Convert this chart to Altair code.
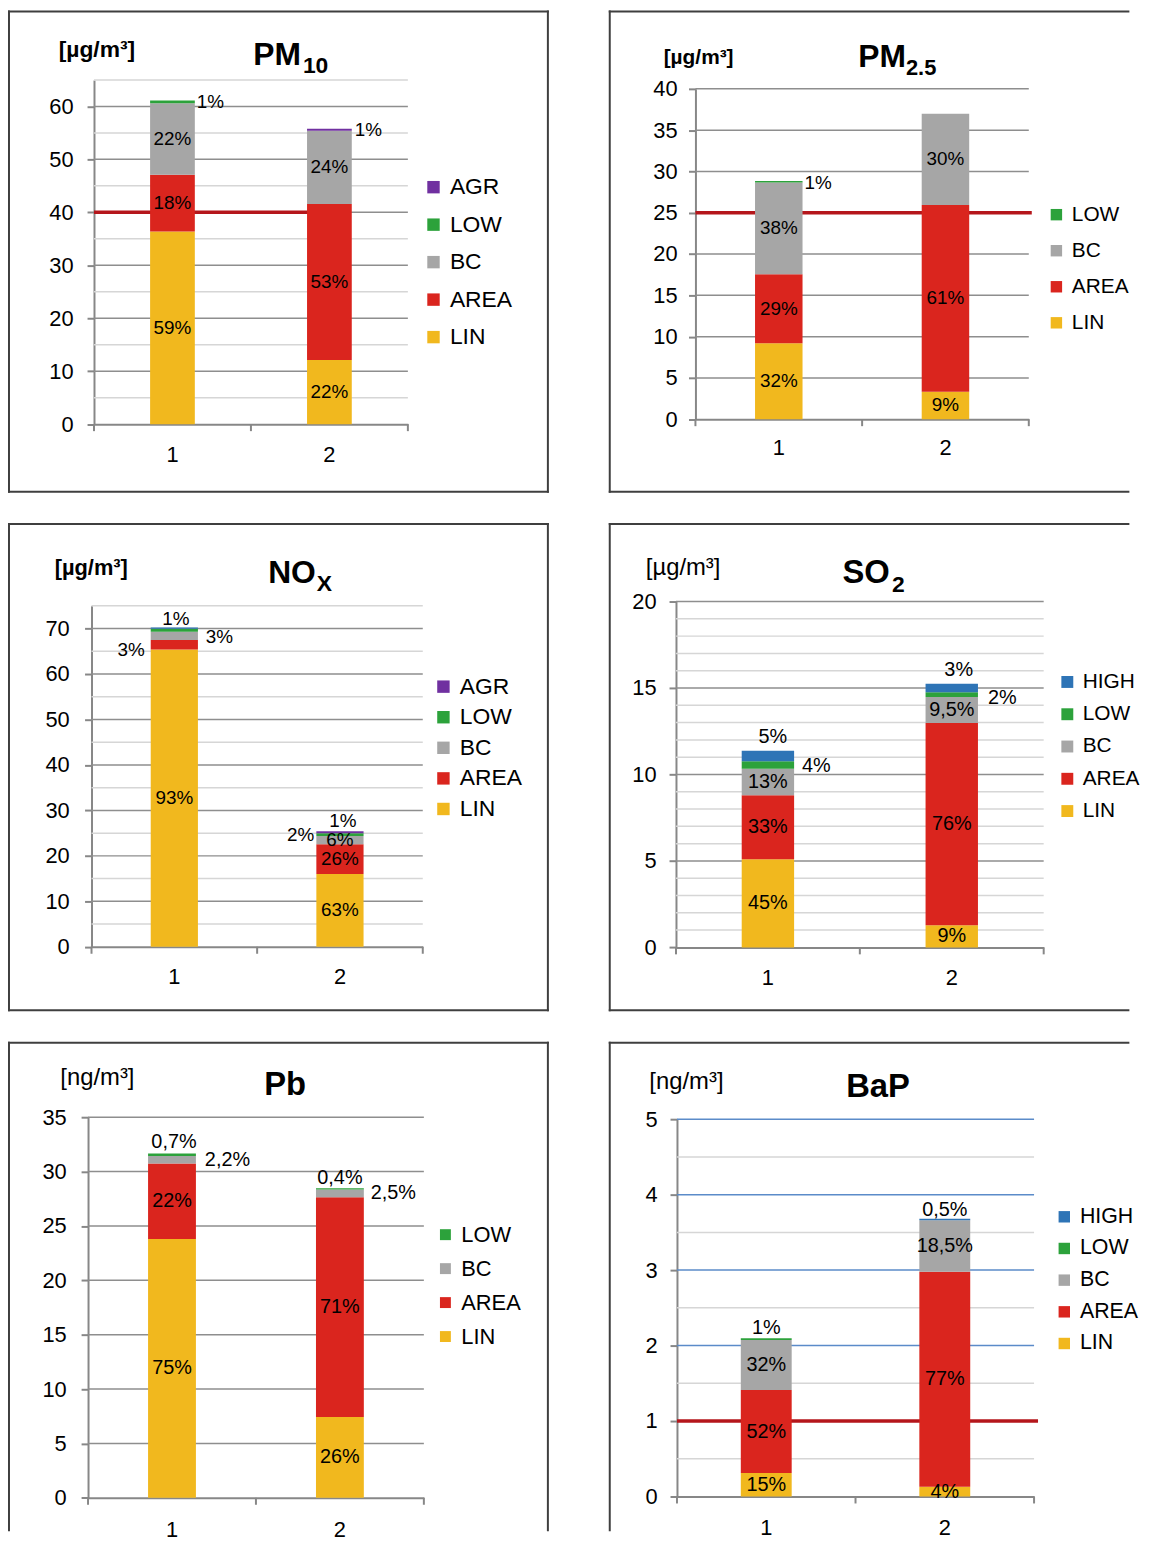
import altair as alt
import pandas as pd

FONT = "Liberation Sans"
CATS = ["1", "2"]

# ---------------- data ----------------
PM10_SOURCES = ["LIN", "AREA", "BC", "LOW", "AGR"]
PM10_BAR1 = [36.4, 10.7, 13.5, 0.5, 0.0]
PM10_BAR2 = [12.1, 29.45, 13.85, 0.0, 0.4]
PM10_LAB1 = ["59%", "18%", "22%", "1%", ""]
PM10_LAB2 = ["22%", "53%", "24%", "", "1%"]
PM10_LEGEND = ["AGR", "LOW", "BC", "AREA", "LIN"]
PM10_TICKS = [0, 10, 20, 30, 40, 50, 60]
PM10_MINOR = [5, 15, 25, 35, 45, 55, 65]
PM10_DOMAIN = [0, 65]
PM10_LIMIT = 40

PM25_SOURCES = ["LIN", "AREA", "BC", "LOW"]
PM25_BAR1 = [9.2, 8.35, 11.1, 0.2]
PM25_BAR2 = [3.33, 22.6, 11.07, 0.0]
PM25_LAB1 = ["32%", "29%", "38%", "1%"]
PM25_LAB2 = ["9%", "61%", "30%", ""]
PM25_LEGEND = ["LOW", "BC", "AREA", "LIN"]
PM25_TICKS = [0, 5, 10, 15, 20, 25, 30, 35, 40]
PM25_MINOR = []
PM25_DOMAIN = [0, 40]
PM25_LIMIT = 25

NOX_SOURCES = ["LIN", "AREA", "BC", "LOW", "HIGH", "AGR"]
NOX_BAR1 = [65.4, 2.1, 1.8, 0.65, 0.3, 0.0]
NOX_BAR2 = [16.0, 6.55, 1.8, 0.6, 0.0, 0.45]
NOX_LAB1 = ["93%", "3%", "3%", "1%", "", ""]
NOX_LAB2 = ["63%", "26%", "6%", "2%", "", "1%"]
NOX_LEGEND = ["AGR", "LOW", "BC", "AREA", "LIN"]
NOX_TICKS = [0, 10, 20, 30, 40, 50, 60, 70]
NOX_MINOR = [5, 15, 25, 35, 45, 55, 65, 75]
NOX_DOMAIN = [0, 75]

SO2_SOURCES = ["LIN", "AREA", "BC", "LOW", "HIGH"]
SO2_BAR1 = [5.1, 3.7, 1.53, 0.44, 0.6]
SO2_BAR2 = [1.28, 11.69, 1.51, 0.27, 0.5]
SO2_LAB1 = ["45%", "33%", "13%", "4%", "5%"]
SO2_LAB2 = ["9%", "76%", "9,5%", "2%", "3%"]
SO2_LEGEND = ["HIGH", "LOW", "BC", "AREA", "LIN"]
SO2_TICKS = [0, 5, 10, 15, 20]
SO2_MINOR = [1, 2, 3, 4, 6, 7, 8, 9, 11, 12, 13, 14, 16, 17, 18, 19]
SO2_DOMAIN = [0, 20]

PB_SOURCES = ["LIN", "AREA", "BC", "LOW"]
PB_BAR1 = [23.8, 6.94, 0.7, 0.22]
PB_BAR2 = [7.42, 20.22, 0.71, 0.11]
PB_LAB1 = ["75%", "22%", "2,2%", "0,7%"]
PB_LAB2 = ["26%", "71%", "2,5%", "0,4%"]
PB_LEGEND = ["LOW", "BC", "AREA", "LIN"]
PB_TICKS = [0, 5, 10, 15, 20, 25, 30, 35]
PB_MINOR = []
PB_DOMAIN = [0, 35]

BAP_SOURCES = ["LIN", "AREA", "BC", "LOW", "HIGH"]
BAP_BAR1 = [0.31, 1.1, 0.665, 0.021, 0.0]
BAP_BAR2 = [0.13, 2.85, 0.68, 0.0, 0.02]
BAP_LAB1 = ["15%", "52%", "32%", "1%", ""]
BAP_LAB2 = ["4%", "77%", "18,5%", "", "0,5%"]
BAP_LEGEND = ["HIGH", "LOW", "BC", "AREA", "LIN"]
BAP_TICKS = [0, 1, 2, 3, 4, 5]
BAP_MINOR = [0.5, 1.5, 2.5, 3.5, 4.5]
BAP_DOMAIN = [0, 5]
BAP_LIMIT = 1

# ---------------- styles ----------------
COLORS = {"LIN": "#F1B81E", "AREA": "#DA251E", "BC": "#A6A6A6",
          "LOW": "#2CA23B", "AGR": "#7030A0", "HIGH": "#2E74B6"}
AXC = "#878787"
MAJOR_C = "#8E8E8E"
MINOR_C = "#D6D6D6"
FRAME_C = "#3F3F3F"
LIMIT_C = "#B5161B"
PAD_IN = 0.715
TOP = 11.0
BOTTOM = 1540.0
RIGHT = 1136.0

PANELS = [
    (dict(sources=PM10_SOURCES, bars=[PM10_BAR1, PM10_BAR2], labels=[PM10_LAB1, PM10_LAB2],
          legend=PM10_LEGEND, ticks=PM10_TICKS, minor=PM10_MINOR, domain=PM10_DOMAIN, limit=PM10_LIMIT),
     dict(plot=(94.6, 410.7, 80.0, 426.7), frame=(9.0, TOP, 551.7, 494.7), edges="tblr",
          title=[("PM", 32, 255, 65), ("10", 23, 305, 73.3)], unit=("[µg/m³]", 23, "bold", 59, 50),
          legend=(425, 188, 36.75, 23, 12.5), ylabpad=14, xlabpad=21, pct=19,
          place={("1", "LOW"): ("right", 2, 0), ("2", "AGR"): ("right", 3, 0)},
          limit_end=0.75, limit_extra=0)),
    (dict(sources=PM25_SOURCES, bars=[PM25_BAR1, PM25_BAR2], labels=[PM25_LAB1, PM25_LAB2],
          legend=PM25_LEGEND, ticks=PM25_TICKS, minor=PM25_MINOR, domain=PM25_DOMAIN, limit=PM25_LIMIT),
     dict(plot=(700.0, 1035.7, 89.0, 421.7), frame=(613.7, TOP, RIGHT, 494.7), edges="tbl",
          title=[("PM", 32, 864, 66.7), ("2.5", 22, 912, 75)], unit=("[µg/m³]", 21, "bold", 668, 58),
          legend=(1053, 215.7, 35.3, 21, 11.5), ylabpad=11.5, xlabpad=19, pct=19,
          place={("1", "LOW"): ("right", 2, 1)}, limit_end=1.0, limit_extra=3)),
    (dict(sources=NOX_SOURCES, bars=[NOX_BAR1, NOX_BAR2], labels=[NOX_LAB1, NOX_LAB2],
          legend=NOX_LEGEND, ticks=NOX_TICKS, minor=NOX_MINOR, domain=NOX_DOMAIN, limit=None),
     dict(plot=(92.1, 425.7, 609.3, 952.7), frame=(9.0, 527.0, 551.7, 1016.7), edges="tblr",
          title=[("NO", 32, 270, 586.7), ("X", 23, 319, 594)], unit=("[µg/m³]", 22, "bold", 55, 571.7),
          legend=(435, 690.7, 29.8, 23, 12.5), ylabpad=15.5, xlabpad=20, pct=19,
          place={("1", "AREA"): ("left", -6, 5), ("1", "BC"): ("right", 8, 1),
                 ("1", "LOW"): ("top", 1.5, 2), ("2", "LOW"): ("left", -2, 0),
                 ("2", "AGR"): ("top", 3, 0)})),
    (dict(sources=SO2_SOURCES, bars=[SO2_BAR1, SO2_BAR2], labels=[SO2_LAB1, SO2_LAB2],
          legend=SO2_LEGEND, ticks=SO2_TICKS, minor=SO2_MINOR, domain=SO2_DOMAIN, limit=None),
     dict(plot=(680.4, 1050.7, 605.0, 953.3), frame=(613.7, 527.0, RIGHT, 1016.7), edges="tbl",
          title=[("SO", 33, 848, 586.7), ("2", 23, 898, 595)], unit=("[µg/m³]", 24, "normal", 650, 571.7),
          legend=(1064, 686, 31.5, 21, 12), ylabpad=13, xlabpad=20.5, pct=20,
          place={("1", "LOW"): ("right", 8, 1), ("1", "HIGH"): ("top", 5, -4),
                 ("2", "LOW"): ("right", 10, 3), ("2", "HIGH"): ("top", 7, -4)})),
    (dict(sources=PB_SOURCES, bars=[PB_BAR1, PB_BAR2], labels=[PB_LAB1, PB_LAB2],
          legend=PB_LEGEND, ticks=PB_TICKS, minor=PB_MINOR, domain=PB_DOMAIN, limit=None),
     dict(plot=(88.6, 426.8, 1124.0, 1507.3), frame=(9.0, 1049.0, 551.7, BOTTOM), edges="tlr",
          title=[("Pb", 33, 266, 1101.7)], unit=("[ng/m³]", 24, "normal", 60.7, 1085),
          legend=(437.5, 1242.3, 34.2, 22, 11), ylabpad=15, xlabpad=21.5, pct=20,
          place={("1", "BC"): ("right", 9, 0), ("1", "LOW"): ("top", 2, -2),
                 ("2", "BC"): ("right", 7, 0), ("2", "LOW"): ("top", 0, 0)})),
    (dict(sources=BAP_SOURCES, bars=[BAP_BAR1, BAP_BAR2], labels=[BAP_LAB1, BAP_LAB2],
          legend=BAP_LEGEND, ticks=BAP_TICKS, minor=BAP_MINOR, domain=BAP_DOMAIN, limit=BAP_LIMIT),
     dict(plot=(681.4, 1041.0, 1126.0, 1506.0), frame=(613.7, 1049.0, RIGHT, BOTTOM), edges="tl",
          title=[("BaP", 33, 851.8, 1103.3)], unit=("[ng/m³]", 24, "normal", 653.6, 1088.3),
          legend=(1060.7, 1224.3, 30.4, 21.5, 11.5), ylabpad=13, xlabpad=21, pct=20,
          place={("1", "LOW"): ("top", 0, 0), ("2", "HIGH"): ("top", 0, 1)},
          major_color="#5B8BC9", limit_end=1.0, limit_extra=4)),
]


def one():
    return pd.DataFrame({"k": [0]})


def panel(d, s):
    x0, x1, yt, yb = s["plot"]
    fx0, fy0, fx1, fy1 = s["frame"]
    FW, FH = fx1 - fx0, fy1 - fy0
    W = x1 - x0

    def rx(v):
        return v - fx0

    def ry(v):
        return v - fy0

    rows = []
    for cat, vals, labs in zip(CATS, d["bars"], d["labels"]):
        cum = 0.0
        total = sum(vals)
        for i, (src, v, lab) in enumerate(zip(d["sources"], vals, labs)):
            rows.append({"cat": cat, "source": src, "value": v, "order": i,
                         "mid": cum + v / 2, "total": total, "label": lab})
            cum += v
    df = pd.DataFrame(rows)

    ysc = alt.Scale(domain=d["domain"], range=[ry(yb), ry(yt)], nice=False, zero=True)
    xsc = alt.Scale(domain=CATS, range=[rx(x0), rx(x1)],
                    paddingInner=PAD_IN, paddingOuter=PAD_IN / 2)
    yax = alt.Axis(title=None, values=d["ticks"], grid=False, labelFontSize=22,
                   labelColor="black", tickSize=7, tickColor=AXC, tickWidth=2,
                   domainColor=AXC, domainWidth=2, labelPadding=s["ylabpad"],
                   labelFlush=False, labelOverlap=False, offset=-rx(x0))
    xax = alt.Axis(title=None, labelAngle=0, labelFontSize=22, labelColor="black",
                   ticks=False, tickSize=0, labelPadding=s["xlabpad"], domainColor=AXC,
                   domainWidth=2, offset=-(FH - ry(yb)))

    def X():
        return alt.X("cat:N", scale=xsc, axis=xax)

    def Y(f, **kw):
        return alt.Y(f, scale=ysc, axis=yax, **kw)

    bw = W / 2 * (1 - PAD_IN)
    layers = []

    # gridlines
    if d["minor"]:
        layers.append(alt.Chart(pd.DataFrame({"v": d["minor"]})).mark_rule(
            color=MINOR_C, strokeWidth=1.5).encode(
            y=Y("v:Q"), x=alt.value(rx(x0)), x2=alt.value(rx(x1))))
    majors = [t for t in d["ticks"] if t > 0]
    layers.append(alt.Chart(pd.DataFrame({"v": majors})).mark_rule(
        color=s.get("major_color", MAJOR_C), strokeWidth=1.5).encode(
        y=Y("v:Q"), x=alt.value(rx(x0)), x2=alt.value(rx(x1))))

    # limit line
    if d["limit"] is not None:
        layers.append(alt.Chart(pd.DataFrame({"v": [d["limit"]]})).mark_rule(
            color=LIMIT_C, strokeWidth=3.5).encode(
            y=Y("v:Q"), x=alt.value(rx(x0)),
            x2=alt.value(rx(x0) + W * s["limit_end"] + s["limit_extra"])))

    # bars
    lo = d["legend"]
    dom = lo + [k for k in d["sources"] if k not in lo]
    lx, cy0, spacing, lfs, side = s["legend"]
    bars = alt.Chart(df[df.value > 0]).mark_bar().encode(
        x=X(),
        y=Y("value:Q", stack="zero"),
        color=alt.Color("source:N", scale=alt.Scale(domain=dom, range=[COLORS[k] for k in dom]),
                        legend=alt.Legend(
                            orient="none", legendX=rx(lx), legendY=ry(cy0 - lfs / 2), title=None,
                            symbolType="square", symbolSize=side * side, symbolStrokeWidth=0,
                            labelFontSize=lfs, labelColor="black", labelOffset=5,
                            rowPadding=spacing - lfs, padding=0, values=lo)),
        order=alt.Order("order:Q", sort="ascending"),
    )
    layers.append(bars)

    # labels
    place = s["place"]
    keep = [(lab != "") and ((c, so) not in place)
            for lab, c, so in zip(df.label, df.cat, df.source)]
    inside = df[keep]
    layers.append(alt.Chart(inside).mark_text(
        fontSize=s["pct"], color="black", align="center", baseline="middle").encode(
        x=X(), y=Y("mid:Q"), text="label:N"))
    for (cat, src), (mode, dx, dy) in place.items():
        row = df[(df.cat == cat) & (df.source == src)]
        if mode == "right":
            mk = dict(align="left", baseline="middle", dx=bw / 2 + dx, dy=dy)
            yf = "mid:Q"
        elif mode == "left":
            mk = dict(align="right", baseline="middle", dx=-bw / 2 + dx, dy=dy)
            yf = "mid:Q"
        else:
            mk = dict(align="center", baseline="bottom", dx=dx, dy=dy)
            yf = "total:Q"
        layers.append(alt.Chart(row).mark_text(fontSize=s["pct"], color="black", **mk).encode(
            x=X(), y=Y(yf), text="label:N"))

    # x-axis boundary ticks
    for xv in [x0, (x0 + x1) / 2, x1]:
        layers.append(alt.Chart(one()).mark_rule(color=AXC, strokeWidth=2).encode(
            x=alt.value(rx(xv)), y=alt.value(ry(yb)), y2=alt.value(ry(yb) + 7)))

    # titles
    for txt, fs, xa, ya in s["title"]:
        layers.append(alt.Chart(one()).mark_text(
            text=txt, fontSize=fs, fontWeight="bold", align="left", baseline="alphabetic",
            color="black").encode(x=alt.value(rx(xa)), y=alt.value(ry(ya))))
    utxt, ufs, uw, ux, uy = s["unit"]
    layers.append(alt.Chart(one()).mark_text(
        text=utxt, fontSize=ufs, fontWeight=uw, align="left", baseline="middle",
        color="black").encode(x=alt.value(rx(ux)), y=alt.value(ry(uy))))

    # frame
    fr = dict(color=FRAME_C, strokeWidth=2, strokeCap="square")
    if "t" in s["edges"]:
        layers.append(alt.Chart(one()).mark_rule(**fr).encode(
            x=alt.value(0), x2=alt.value(FW), y=alt.value(0)))
    if "b" in s["edges"]:
        layers.append(alt.Chart(one()).mark_rule(**fr).encode(
            x=alt.value(0), x2=alt.value(FW), y=alt.value(FH)))
    if "l" in s["edges"]:
        layers.append(alt.Chart(one()).mark_rule(**fr).encode(
            x=alt.value(0), y=alt.value(0), y2=alt.value(FH)))
    if "r" in s["edges"]:
        layers.append(alt.Chart(one()).mark_rule(**fr).encode(
            x=alt.value(FW), y=alt.value(0), y2=alt.value(FH)))

    return alt.layer(*layers).properties(width=FW, height=FH)


charts = [panel(d, s) for d, s in PANELS]
HGAP = 613.7 - 551.7
VGAP = 527.0 - 494.7
chart = alt.concat(
    *charts, columns=2, bounds="flush", align="each",
    spacing={"row": VGAP, "column": HGAP},
).resolve_scale(color="independent").properties(
    padding={"top": -4, "left": -1, "right": 0, "bottom": 0}, background="white"
).configure(font=FONT).configure_view(stroke=None)

chart.save("out.html", embed_options={"renderer": "svg", "actions": False})
